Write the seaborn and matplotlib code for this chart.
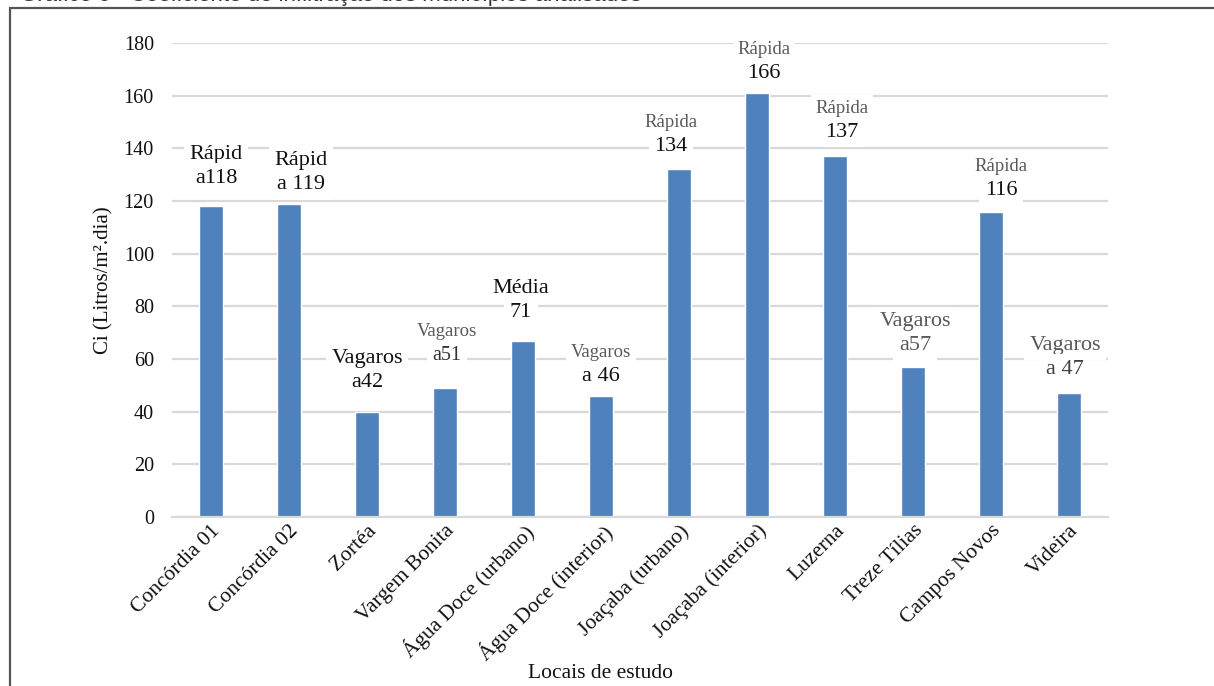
import matplotlib.pyplot as plt
import pandas as pd
import seaborn as sns
from matplotlib.patches import Rectangle

locais = [
    "Concórdia 01", "Concórdia 02", "Zortéa", "Vargem Bonita",
    "Água Doce (urbano)", "Água Doce (interior)", "Joaçaba (urbano)",
    "Joaçaba (interior)", "Luzerna", "Treze Tílias", "Campos Novos", "Videira",
]
ci = [118, 119, 40, 49, 67, 46, 132, 161, 137, 57, 116, 47]
rotulo_sup = ["Rápid", "Rápid", "Vagaros", "Vagaros", "Média", "Vagaros",
              "Rápida", "Rápida", "Rápida", "Vagaros", "Rápida", "Vagaros"]
rotulo_inf = ["a118", "a 119", "a42", "a51", "71", "a 46",
              "134", "166", "137", "a57", "116", "a 47"]
y_ticks = list(range(0, 181, 20))

BLACK = "#111111"
GRAY = "#595959"
# style per label: (colour line 1, size line 1, colour line 2, size line 2, dx px, dy px)
estilos = [
    (BLACK, 16, BLACK, 16, 5, 40),
    (BLACK, 16, BLACK, 16, 12, 31),
    (BLACK, 16, BLACK, 16, 0, 41),
    (GRAY, 13.5, "#333333", 14.5, 2, 44),
    (BLACK, 16, BLACK, 16, -2, 40),
    (GRAY, 13.5, BLACK, 16, 0, 31),
    (GRAY, 13.5, BLACK, 16, -8, 35),
    (GRAY, 13.5, BLACK, 16, 7, 32),
    (GRAY, 13.5, BLACK, 16, 7, 36),
    (GRAY, 16, GRAY, 16, 2, 33),
    (GRAY, 13.5, BLACK, 16, 10, 33),
    (GRAY, 16, "#404040", 16, -4, 36),
]

df = pd.DataFrame({"local": locais, "ci": ci})

sns.set_style("white")
plt.rcParams["font.family"] = ["Liberation Serif", "DejaVu Serif"]

fig = plt.figure(figsize=(12.14, 6.86), dpi=100)
ax = fig.add_axes([172 / 1214, 1 - 517 / 686, 936 / 1214, 474 / 686])

sns.barplot(data=df, x="local", y="ci", color="#4F81BD", saturation=1,
            width=0.32, ax=ax, zorder=2)

ax.set_ylim(0, 180)
ax.set_xlim(-0.5, len(locais) - 0.5)
ax.set_yticks(y_ticks)
ax.yaxis.grid(True, color="#D9D9D9", linewidth=1.6, zorder=0)
ax.set_axisbelow(True)
for s in ["top", "right", "left"]:
    ax.spines[s].set_visible(False)
ax.spines["bottom"].set_color("#D9D9D9")
ax.spines["bottom"].set_linewidth(1.6)
ax.tick_params(axis="y", length=0, labelsize=14.5, pad=13, colors=BLACK)
ax.tick_params(axis="x", length=0, labelsize=15.5, pad=3, colors=BLACK)
plt.setp(ax.get_xticklabels(), rotation=45, ha="right", rotation_mode="anchor")

ax.set_xlabel("Locais de estudo", fontsize=15.5, color=BLACK, va="center")
ax.xaxis.set_label_coords((601 - 172) / 936, -(673 - 517) / 474)
ax.set_ylabel("Ci (Litros/m².dia)", fontsize=15, color=BLACK, va="center")
ax.yaxis.set_label_coords(-(172 - 104) / 936, 0.5)

caixa = dict(boxstyle="square,pad=0.25", facecolor="white", edgecolor="none")
for i, (v, t1, t2) in enumerate(zip(ci, rotulo_sup, rotulo_inf)):
    c1, s1, c2, s2, dx, dy = estilos[i]
    ax.annotate(t1, (i, v), xytext=(dx * 0.72, (dy + 12) * 0.72),
                textcoords="offset points", ha="center", va="center",
                fontsize=s1, color=c1, bbox=caixa, zorder=4)
    ax.annotate(t2, (i, v), xytext=(dx * 0.72, (dy - 12) * 0.72),
                textcoords="offset points", ha="center", va="center",
                fontsize=s2, color=c2, bbox=caixa, zorder=4)

# page frame and the cut-off caption of the source document
fig.patches.append(Rectangle((10 / 1214, -0.1), 1.2, 1 - 8 / 686 + 0.1,
                             transform=fig.transFigure, fill=False,
                             edgecolor="#555555", linewidth=1.6))
fig.text(20 / 1214, 1 + 4 / 686,
         "Gráfico 6 - Coeficiente de infiltração dos municípios analisados",
         family=["Liberation Sans", "DejaVu Sans"], fontsize=16, color="#333333",
         ha="left", va="center")

fig.savefig("out.png", dpi=100)
